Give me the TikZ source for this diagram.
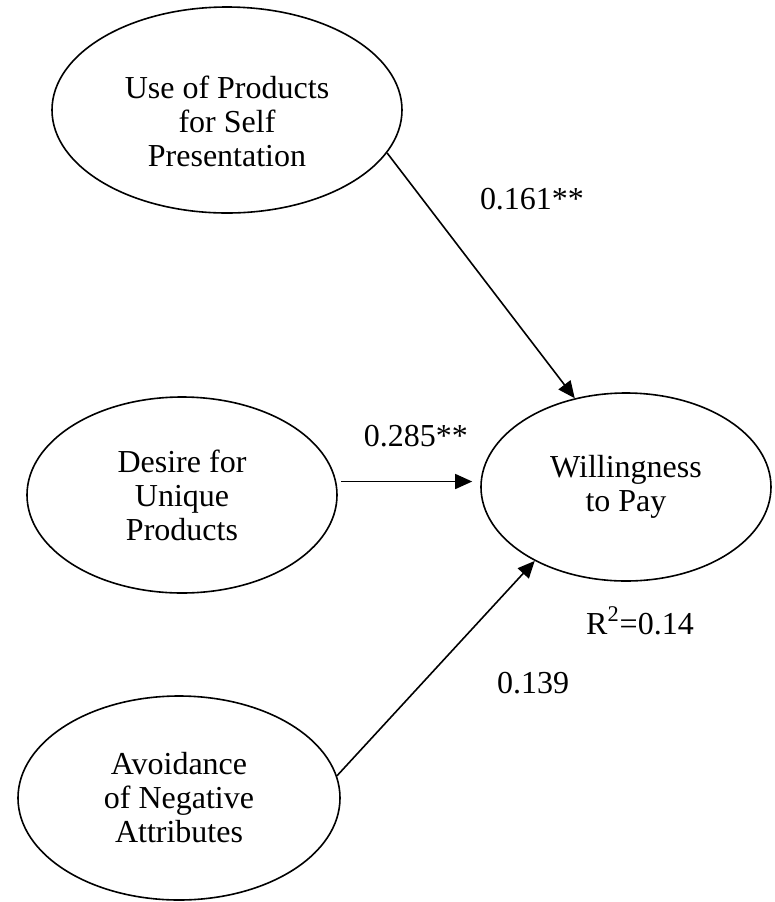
\documentclass[tikz,border=0pt]{standalone}
\usepackage{fontspec}
\setmainfont{Liberation Serif}
\usetikzlibrary{shapes.geometric,arrows.meta}
\begin{document}
\begin{tikzpicture}[x=0.5pt,y=-0.5pt,
  latent/.style={ellipse,draw,line width=0.8pt,inner sep=0pt,align=center,
    font=\fontsize{16pt}{17pt}\selectfont},
  txt/.style={align=center,inner sep=0pt,font=\fontsize{16pt}{17pt}\selectfont},
  lbl/.style={font=\fontsize{16pt}{17pt}\selectfont,inner sep=0pt},
  arr/.style={line width=0.8pt,-{Triangle[length=8.5pt,width=7.5pt]}}]
\useasboundingbox (0,0) rectangle (775,902);
\node[latent,minimum width=175pt,minimum height=103pt] (u) at (227,110) {};
\node[txt] (ut) at (227,121) {Use of Products\\for Self\\Presentation};
\node[latent,minimum width=155pt,minimum height=98pt] (d) at (182,495)
  {Desire for\\Unique\\Products};
\node[latent,minimum width=145pt,minimum height=94pt] (w) at (626,487)
  {Willingness\\to Pay};
\node[latent,minimum width=161pt,minimum height=102pt] (a) at (179,798)
  {Avoidance\\of Negative\\Attributes};
\draw[arr] (u.-15.7) -- (w.120.5);
\draw[arr,shorten <=2.5pt,shorten >=4pt] (d.5.2) -- (d.5.2 -| w.west);
\draw[arr] (a.8.4) -- (w.219);
\node[lbl] (l1) at (532,199) {0.161**};
\node[lbl] (l2) at (416,436) {0.285**};
\node[lbl] (l3) at (640,621) {R\textsuperscript{2}=0.14};
\node[lbl] (l4) at (533,683) {0.139};
\end{tikzpicture}
\end{document}
